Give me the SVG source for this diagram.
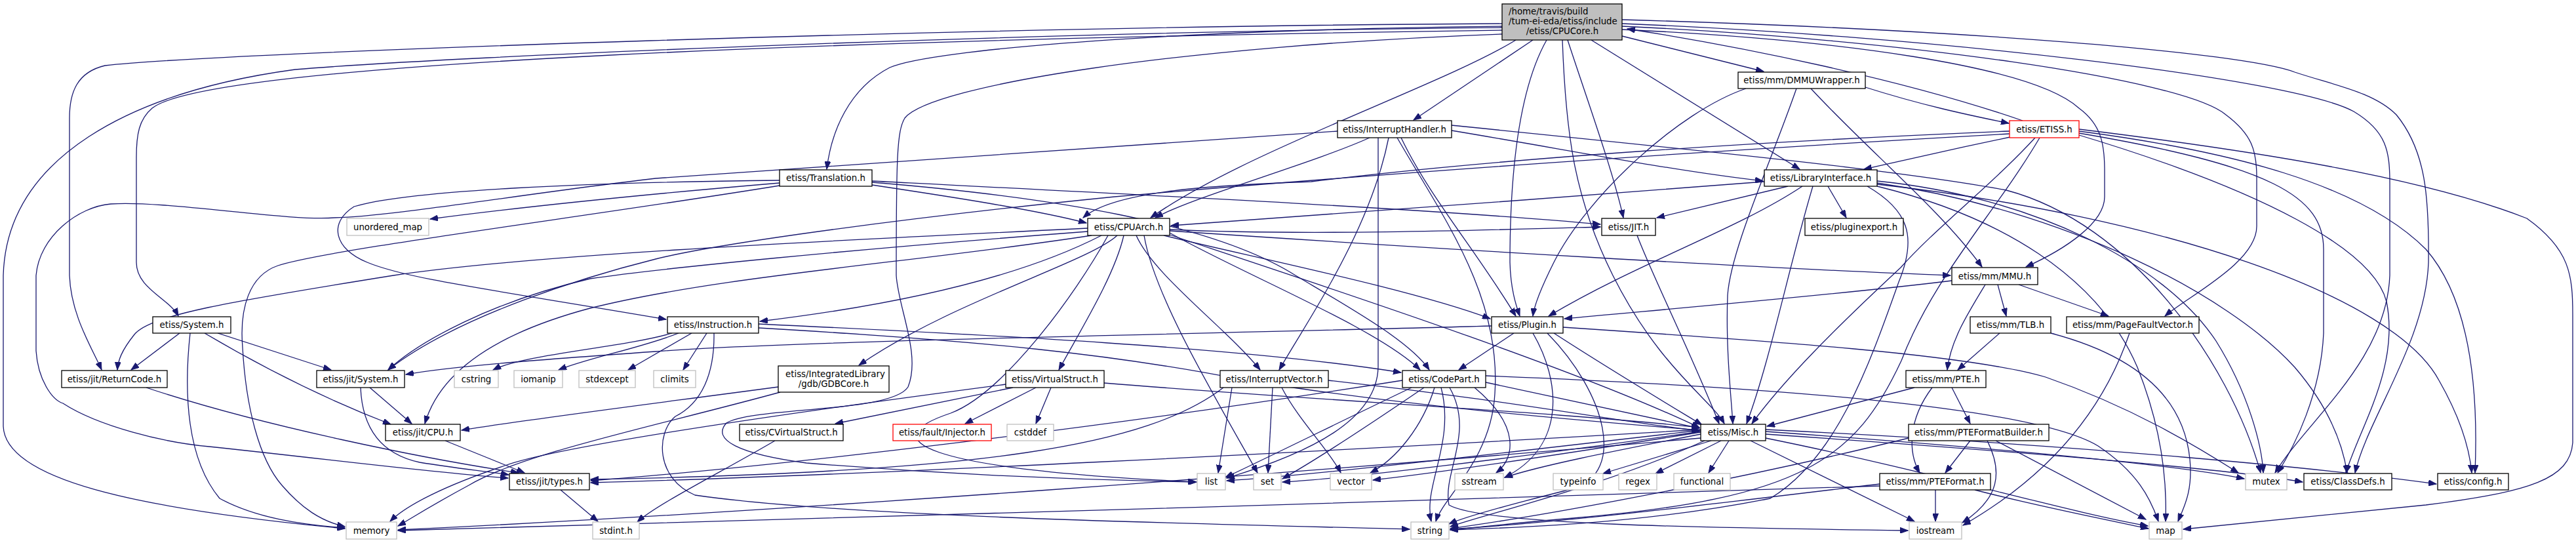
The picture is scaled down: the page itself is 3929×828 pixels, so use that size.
<svg xmlns="http://www.w3.org/2000/svg" width="3929" height="828" viewBox="0 0 3929 828">
<style>
.n rect{fill:#fff;stroke:#000;stroke-width:1.3}
.x rect{stroke:#bfbfbf}
.r rect{stroke:#ff0000}
.root rect{fill:#bfbfbf}
text{font-family:"DejaVu Sans",sans-serif;font-size:13.33px;fill:#000;text-anchor:middle}
text.l{text-anchor:start}
.e path{fill:none;stroke:#191970;stroke-width:1.3;marker-end:url(#a)}
</style>
<defs>
<marker id="a" markerUnits="userSpaceOnUse" markerWidth="13" markerHeight="9" refX="12" refY="4.5" orient="auto">
<path d="M0,0 L12,4.5 L0,9 z" fill="#191970" stroke="#191970" stroke-width="1"/>
</marker>
</defs>
<rect width="3929" height="828" fill="#fff"/>
<g id="edges" class="e">
<path d="M2291,46 C1300,60 320,95 232,165 C212,182 208,205 208,240 L208,400 C208,440 258,455 272,482"/>
<path d="M2291,36 C1500,40 330,80 160,100 C118,110 106,140 106,180 L106,420 C108,480 140,530 155,564"/>
<path d="M2291,42 C1600,48 700,85 450,106 C200,140 10,240 5,420 L5,650 C8,730 200,775 526,806"/>
<path d="M2291,40 C1800,45 1420,75 1357,103 C1295,135 1268,200 1261,258"/>
<path d="M2291,52 C1800,70 1420,130 1380,180 C1368,200 1367,240 1367,420 C1370,470 1405,540 1385,590 C1360,630 1150,620 1108,645 C1085,670 1125,692 1230,706 C1500,728 1700,733 1825,735"/>
<path d="M2312,61 C2200,130 1900,230 1755,332"/>
<path d="M2338,61 L2156,183"/>
<path d="M2359,61 C2320,130 2303,250 2303,400 C2304,440 2312,465 2318,482"/>
<path d="M2383,61 C2388,200 2400,300 2460,420 C2530,560 2610,610 2630,646"/>
<path d="M2391,61 C2420,150 2460,260 2476,332"/>
<path d="M2427,61 L2745,258"/>
<path d="M2474,55 L2690,109"/>
<path d="M2474,45 C2800,60 3100,100 3171,165 C3205,190 3210,220 3210,260 L3210,300 C3210,340 3150,380 3090,407"/>
<path d="M2474,40 C2900,60 3330,120 3395,175 C3435,205 3442,230 3442,270 L3442,345 C3442,400 3340,450 3302,482"/>
<path d="M2474,36 C2950,55 3500,120 3590,170 C3640,200 3645,230 3645,280 L3645,420 C3640,550 3520,640 3470,721"/>
<path d="M2474,30 C3000,45 3420,80 3500,110 C3560,130 3620,140 3655,175 C3700,230 3705,300 3704,400 C3700,520 3610,640 3592,721"/>
<path d="M3085,184 C2900,120 2650,70 2482,44"/>
<path d="M3066,209 C2990,225 2900,245 2843,258"/>
<path d="M3104,210 C3040,280 2950,350 2899,408 C2800,500 2720,580 2672,646"/>
<path d="M3111,210 C3040,330 2950,420 2900,550 C2830,700 2750,760 2400,790 C2300,798 2250,805 2212,808"/>
<path d="M3065,200 C2700,215 2300,240 2000,277 C1860,282 1700,290 1652,332"/>
<path d="M3065,204 C2600,230 2100,265 1700,300 C1400,330 1100,370 1000,395 C900,420 700,480 592,564"/>
<path d="M3171,200 C3400,230 3600,280 3700,380 C3770,460 3780,600 3775,721"/>
<path d="M3171,197 C3439,230 3694,270 3854,333 C3920,380 3924,420 3924,480 L3924,675 C3920,730 3860,750 3700,770 C3500,790 3400,800 3330,807"/>
<path d="M3171,203 C3465,253 3544,300 3544,380 L3544,508 C3540,600 3500,680 3474,721"/>
<path d="M3171,206 C3450,290 3620,380 3640,460 C3660,560 3600,650 3578,721"/>
<path d="M2691,277 C2400,300 2050,325 1786,344"/>
<path d="M2727,284 L2527,332"/>
<path d="M2788,284 L2816,332"/>
<path d="M2749,284 C2650,350 2500,400 2362,482"/>
<path d="M2765,284 C2730,400 2700,550 2664,646"/>
<path d="M2848,284 C2910,320 2925,360 2896,430 C2850,560 2800,700 2700,760 C2500,800 2300,805 2212,808"/>
<path d="M2863,276 C3100,300 3300,400 3380,520 C3430,600 3450,680 3452,721"/>
<path d="M2863,279 C3150,320 3400,450 3500,560 C3560,630 3575,690 3580,721"/>
<path d="M2863,281 C3300,330 3650,450 3720,580 C3760,650 3768,700 3770,721"/>
<path d="M2863,284 C3050,330 3200,420 3260,560 C3300,660 3305,740 3303,795"/>
<path d="M2845,133 C2930,160 3000,175 3064,188"/>
<path d="M2663,135 C2560,170 2420,300 2370,400 C2350,440 2340,465 2338,482"/>
<path d="M2740,135 C2700,250 2640,380 2635,450 C2632,530 2640,600 2643,646"/>
<path d="M2762,135 C2850,230 2960,320 3023,407"/>
<path d="M2040,200 C1600,230 1200,255 1000,272 C800,295 600,330 510,332 C440,338 250,305 169,311 C120,315 60,360 55,420 L55,535 C58,580 80,610 96,615 C150,650 250,675 319,681 C500,700 650,720 775,729"/>
<path d="M2089,210 C2000,250 1820,300 1762,332"/>
<path d="M2102,210 L2102,560 C2100,640 2000,690 1871,729"/>
<path d="M2118,210 C2090,350 2000,480 1951,564"/>
<path d="M2137,210 C2180,300 2250,380 2312,482"/>
<path d="M2131,210 C2200,330 2290,450 2280,600 C2275,700 2200,760 2190,795"/>
<path d="M2214,199 C2400,230 2550,260 2689,276"/>
<path d="M2214,191 C2600,230 2900,260 3060,290 C3250,340 3400,550 3448,721"/>
<path d="M1659,348 C1200,370 800,390 600,420 C350,460 230,480 205,510 C185,535 180,550 179,564"/>
<path d="M1659,353 C1300,380 1000,410 900,425 C750,460 640,520 592,564"/>
<path d="M1665,359 C1400,400 1100,420 900,470 C750,510 670,570 648,646"/>
<path d="M1680,359 C1600,400 1450,455 1159,490"/>
<path d="M1704,359 C1660,400 1450,460 1310,557"/>
<path d="M1714,359 C1700,420 1650,500 1615,564"/>
<path d="M1733,359 C1760,420 1870,500 1922,564"/>
<path d="M1745,359 C1760,450 1850,600 1918,721"/>
<path d="M1784,355 C1900,420 2100,500 2166,564"/>
<path d="M1784,358 C2000,430 2400,560 2592,652"/>
<path d="M1784,350 C2000,360 2300,350 2441,346"/>
<path d="M1784,352 C2200,380 2700,410 2975,420"/>
<path d="M1775,359 C1900,390 2150,440 2273,486"/>
<path d="M1690,359 C1640,450 1530,600 1450,630 C1330,670 1400,715 1824,735"/>
<path d="M1189,275 C900,278 620,290 540,315 C500,340 510,380 560,400 C620,425 740,440 1016,487"/>
<path d="M1189,279 C1000,295 800,315 656,334"/>
<path d="M1189,283 C900,330 500,380 424,405 C380,420 365,470 370,530 C375,620 395,700 430,740 C460,775 490,795 526,803"/>
<path d="M1330,282 C1450,300 1580,320 1657,340"/>
<path d="M1330,276 C1800,300 2200,320 2441,342"/>
<path d="M1330,278 C1600,300 1850,340 1976,420 C2060,470 2150,520 2180,564"/>
<path d="M1025,508 C950,530 800,540 752,564"/>
<path d="M1035,508 C980,530 900,545 852,564"/>
<path d="M1055,508 L958,564"/>
<path d="M1078,508 L1042,564"/>
<path d="M1089,508 C1090,570 1070,615 1030,635 C1000,660 1000,730 1060,755 C1300,790 1900,800 2150,807"/>
<path d="M1157,494 C1500,510 1900,530 2137,568"/>
<path d="M1157,500 C1500,520 1700,540 1900,580 C2150,620 2400,640 2592,656"/>
<path d="M2309,508 L2225,564"/>
<path d="M2275,497 C1800,510 1200,520 1000,536 C800,550 680,560 619,571"/>
<path d="M2384,499 C2700,520 3000,540 3120,575 C3250,620 3350,680 3414,721"/>
<path d="M2338,508 C2380,580 2390,680 2295,728"/>
<path d="M2360,508 C2450,600 2480,720 2400,745 C2300,770 2230,790 2210,799"/>
<path d="M2370,508 C2450,560 2550,620 2596,648"/>
<path d="M2266,583 L2592,653"/>
<path d="M2188,591 C2170,650 2130,700 2090,721"/>
<path d="M2249,591 C2320,650 2310,700 2282,721"/>
<path d="M2198,591 C2220,675 2170,741 2183,795"/>
<path d="M2153,591 C2050,640 1950,690 1869,728"/>
<path d="M2172,591 C2100,640 2010,700 1956,730"/>
<path d="M2139,580 C1700,650 1200,710 901,733"/>
<path d="M2266,573 C2700,590 3100,620 3200,680 C3260,720 3280,760 3292,795"/>
<path d="M2211,591 C2250,660 2200,720 2210,770 C2260,800 2600,805 2910,809"/>
<path d="M2594,659 C2400,690 2200,720 2094,732"/>
<path d="M2594,662 C2450,690 2350,710 2295,728"/>
<path d="M2610,672 L2445,722"/>
<path d="M2625,672 L2525,722"/>
<path d="M2637,672 L2606,721"/>
<path d="M2670,672 L2920,795"/>
<path d="M2600,672 C2450,740 2280,780 2212,803"/>
<path d="M2594,656 C2300,690 2000,725 1871,733"/>
<path d="M2594,658 C2300,700 2050,730 1956,735"/>
<path d="M2594,655 C2000,690 1300,725 901,736"/>
<path d="M2594,668 C2000,720 1200,780 607,808"/>
<path d="M2693,658 C3000,680 3300,705 3423,730"/>
<path d="M2693,662 C3100,690 3400,715 3512,735"/>
<path d="M2693,655 C3200,680 3550,715 3716,738"/>
<path d="M2693,668 C2950,720 3150,780 3276,802"/>
<path d="M1879,591 L1858,721"/>
<path d="M1941,591 L1934,721"/>
<path d="M1955,591 C1980,640 2030,690 2045,721"/>
<path d="M2026,580 C2300,610 2450,640 2592,657"/>
<path d="M1866,591 C1750,680 1500,720 901,731"/>
<path d="M1545,591 L1274,646"/>
<path d="M1580,591 L1472,646"/>
<path d="M1603,591 L1580,646"/>
<path d="M1534,586 C1200,630 850,680 770,710 C680,740 620,770 595,795"/>
<path d="M1684,584 C2000,610 2400,630 2592,652"/>
<path d="M1182,672 C1100,720 1000,770 972,796"/>
<path d="M1187,590 C1000,615 800,640 704,656"/>
<path d="M1190,598 C1000,650 800,690 715,740 C650,775 620,795 607,802"/>
<path d="M274,508 L200,564"/>
<path d="M290,508 C280,600 285,700 335,760 C390,790 460,800 526,805"/>
<path d="M312,508 C400,560 500,610 596,647"/>
<path d="M332,508 L505,564"/>
<path d="M223,591 C400,650 650,700 791,721"/>
<path d="M564,591 L628,646"/>
<path d="M550,591 C552,640 570,690 640,705 C700,715 740,718 776,724"/>
<path d="M679,672 L800,721"/>
<path d="M855,747 L912,795"/>
<path d="M2497,359 C2520,420 2580,540 2622,646"/>
<path d="M2977,428 C2800,450 2500,475 2386,486"/>
<path d="M3047,434 L3060,482"/>
<path d="M3079,434 L3216,482"/>
<path d="M3028,434 C3000,480 2975,520 2970,564"/>
<path d="M3050,508 L2986,564"/>
<path d="M3128,508 C3250,540 3330,600 3340,700 C3345,750 3330,775 3322,795"/>
<path d="M3248,508 C3200,650 3100,740 2994,801"/>
<path d="M2920,591 L2695,650"/>
<path d="M2977,591 L3005,646"/>
<path d="M2947,591 C2910,640 2910,690 2928,721"/>
<path d="M3005,672 L2967,721"/>
<path d="M3031,672 C3055,720 3050,760 2993,797"/>
<path d="M3044,672 L3273,792"/>
<path d="M2911,668 C2700,720 2400,780 2212,806"/>
<path d="M2952,747 L2952,795"/>
<path d="M3012,747 C3100,770 3200,790 3277,806"/>
<path d="M2867,738 C2600,770 2400,795 2212,807"/>
<path d="M2867,741 C2200,765 1200,790 607,809"/>
</g>
<g id="n_core" class="n root"><rect x="2291" y="6" width="183" height="55"/><text class="l" x="2301" y="22">/home/travis/build</text><text class="l" x="2301" y="37">/tum-ei-eda/etiss/include</text><text x="2383" y="52">/etiss/CPUCore.h</text></g>
<g id="n_dmmu" class="n"><rect x="2651" y="110" width="194" height="25"/><text x="2748" y="127">etiss/mm/DMMUWrapper.h</text></g>
<g id="n_ih" class="n"><rect x="2040" y="184" width="174" height="26"/><text x="2127" y="201.7">etiss/InterruptHandler.h</text></g>
<g id="n_etiss" class="n r"><rect x="3065" y="184" width="106" height="26"/><text x="3118" y="201.7">etiss/ETISS.h</text></g>
<g id="n_trans" class="n"><rect x="1189" y="259" width="141" height="25"/><text x="1259.5" y="276.2">etiss/Translation.h</text></g>
<g id="n_li" class="n"><rect x="2691" y="259" width="172" height="25"/><text x="2777" y="276.2">etiss/LibraryInterface.h</text></g>
<g id="n_cpuarch" class="n"><rect x="1659" y="333" width="125" height="26"/><text x="1721.5" y="350.7">etiss/CPUArch.h</text></g>
<g id="n_jit" class="n"><rect x="2443" y="333" width="82" height="26"/><text x="2484" y="350.7">etiss/JIT.h</text></g>
<g id="n_pluginexport" class="n"><rect x="2753" y="333" width="150" height="26"/><text x="2828" y="350.7">etiss/pluginexport.h</text></g>
<g id="n_umap" class="n x"><rect x="529" y="333" width="125" height="26"/><text x="591.5" y="350.7">unordered_map</text></g>
<g id="n_mmu" class="n"><rect x="2977" y="408" width="131" height="26"/><text x="3042.5" y="425.7">etiss/mm/MMU.h</text></g>
<g id="n_plugin" class="n"><rect x="2275" y="483" width="109" height="25"/><text x="2329.5" y="500.2">etiss/Plugin.h</text></g>
<g id="n_instr" class="n"><rect x="1018" y="483" width="139" height="25"/><text x="1087.5" y="500.2">etiss/Instruction.h</text></g>
<g id="n_system" class="n"><rect x="233" y="483" width="119" height="25"/><text x="292.5" y="500.2">etiss/System.h</text></g>
<g id="n_tlb" class="n"><rect x="3005" y="483" width="123" height="25"/><text x="3066.5" y="500.2">etiss/mm/TLB.h</text></g>
<g id="n_pfv" class="n"><rect x="3152" y="483" width="202" height="25"/><text x="3253" y="500.2">etiss/mm/PageFaultVector.h</text></g>
<g id="n_codepart" class="n"><rect x="2139" y="565" width="127" height="26"/><text x="2202.5" y="582.7">etiss/CodePart.h</text></g>
<g id="n_vstruct" class="n"><rect x="1534" y="565" width="150" height="26"/><text x="1609" y="582.7">etiss/VirtualStruct.h</text></g>
<g id="n_ivec" class="n"><rect x="1861" y="565" width="165" height="26"/><text x="1943.5" y="582.7">etiss/InterruptVector.h</text></g>
<g id="n_pte" class="n"><rect x="2907" y="565" width="122" height="26"/><text x="2968" y="582.7">etiss/mm/PTE.h</text></g>
<g id="n_retcode" class="n"><rect x="94" y="565" width="161" height="26"/><text x="174.5" y="582.7">etiss/jit/ReturnCode.h</text></g>
<g id="n_jitsys" class="n"><rect x="483" y="565" width="134" height="26"/><text x="550" y="582.7">etiss/jit/System.h</text></g>
<g id="n_cstring" class="n x"><rect x="693" y="565" width="67" height="26"/><text x="726.5" y="582.7">cstring</text></g>
<g id="n_iomanip" class="n x"><rect x="784" y="565" width="74" height="26"/><text x="821" y="582.7">iomanip</text></g>
<g id="n_stdexcept" class="n x"><rect x="883" y="565" width="86" height="26"/><text x="926" y="582.7">stdexcept</text></g>
<g id="n_climits" class="n x"><rect x="997" y="565" width="64" height="26"/><text x="1029" y="582.7">climits</text></g>
<g id="n_gdb" class="n"><rect x="1187" y="558" width="169" height="40"/><text class="l" x="1198" y="575">etiss/IntegratedLibrary</text><text x="1271.5" y="590">/gdb/GDBCore.h</text></g>
<g id="n_misc" class="n"><rect x="2594" y="647" width="99" height="25"/><text x="2643.5" y="664.2">etiss/Misc.h</text></g>
<g id="n_cpu" class="n"><rect x="588" y="647" width="114" height="25"/><text x="645" y="664.2">etiss/jit/CPU.h</text></g>
<g id="n_cvs" class="n"><rect x="1128" y="647" width="158" height="25"/><text x="1207" y="664.2">etiss/CVirtualStruct.h</text></g>
<g id="n_injector" class="n r"><rect x="1362" y="647" width="150" height="25"/><text x="1437" y="664.2">etiss/fault/Injector.h</text></g>
<g id="n_cstddef" class="n x"><rect x="1536" y="647" width="71" height="25"/><text x="1571.5" y="664.2">cstddef</text></g>
<g id="n_pfb" class="n"><rect x="2911" y="647" width="214" height="25"/><text x="3018" y="664.2">etiss/mm/PTEFormatBuilder.h</text></g>
<g id="n_types" class="n"><rect x="777" y="722" width="122" height="25"/><text x="838" y="739.2">etiss/jit/types.h</text></g>
<g id="n_list" class="n x"><rect x="1826" y="722" width="43" height="25"/><text x="1847.5" y="739.2">list</text></g>
<g id="n_set" class="n x"><rect x="1912" y="722" width="42" height="25"/><text x="1933" y="739.2">set</text></g>
<g id="n_vector" class="n x"><rect x="2029" y="722" width="63" height="25"/><text x="2060.5" y="739.2">vector</text></g>
<g id="n_sstream" class="n x"><rect x="2219" y="722" width="74" height="25"/><text x="2256" y="739.2">sstream</text></g>
<g id="n_typeinfo" class="n x"><rect x="2369" y="722" width="76" height="25"/><text x="2407" y="739.2">typeinfo</text></g>
<g id="n_regex" class="n x"><rect x="2469" y="722" width="58" height="25"/><text x="2498" y="739.2">regex</text></g>
<g id="n_functional" class="n x"><rect x="2553" y="722" width="86" height="25"/><text x="2596" y="739.2">functional</text></g>
<g id="n_ptef" class="n"><rect x="2867" y="722" width="169" height="25"/><text x="2951.5" y="739.2">etiss/mm/PTEFormat.h</text></g>
<g id="n_mutex" class="n x"><rect x="3425" y="722" width="63" height="25"/><text x="3456.5" y="739.2">mutex</text></g>
<g id="n_classdefs" class="n"><rect x="3514" y="722" width="134" height="25"/><text x="3581" y="739.2">etiss/ClassDefs.h</text></g>
<g id="n_config" class="n"><rect x="3718" y="722" width="108" height="25"/><text x="3772" y="739.2">etiss/config.h</text></g>
<g id="n_memory" class="n x"><rect x="528" y="796" width="77" height="26"/><text x="566.5" y="813.7">memory</text></g>
<g id="n_stdint" class="n x"><rect x="904" y="796" width="71" height="26"/><text x="939.5" y="813.7">stdint.h</text></g>
<g id="n_string" class="n x"><rect x="2152" y="796" width="58" height="26"/><text x="2181" y="813.7">string</text></g>
<g id="n_iostream" class="n x"><rect x="2912" y="796" width="80" height="26"/><text x="2952" y="813.7">iostream</text></g>
<g id="n_map" class="n x"><rect x="3278" y="796" width="50" height="26"/><text x="3303" y="813.7">map</text></g>
</svg>
